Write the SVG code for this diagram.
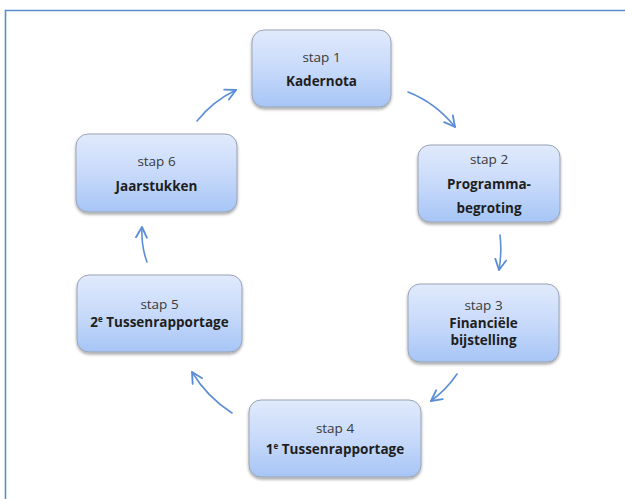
<svg xmlns="http://www.w3.org/2000/svg" width="625" height="499" viewBox="0 0 625 499">
  <defs>
    <linearGradient id="boxGrad" x1="0" y1="0" x2="0" y2="1">
      <stop offset="0" stop-color="#e0eafc"/>
      <stop offset="0.5" stop-color="#c8dafa"/>
      <stop offset="1" stop-color="#a6c5f6"/>
    </linearGradient>
    <filter id="shadow" x="-10%" y="-10%" width="120%" height="130%">
      <feDropShadow dx="0" dy="2" stdDeviation="1.6" flood-color="#000" flood-opacity="0.35"/>
    </filter>
    <marker id="arrow" markerUnits="userSpaceOnUse" markerWidth="14" markerHeight="14" viewBox="0 0 12 12" refX="10" refY="6" orient="auto">
      <path d="M1,1.3 L10,6 L1,10.7" fill="none" stroke="#5b8ed6" stroke-width="1.6" stroke-linecap="round" stroke-linejoin="round"/>
    </marker>
    <style>
      .box { fill: url(#boxGrad); stroke: #9aa3b3; stroke-width: 1; filter: url(#shadow); }
      .lbl { font-family: "Open Sans", "Liberation Sans", sans-serif; font-size: 13.5px; fill: #3a3a3a; text-anchor: middle; }
      .bold { font-family: "Open Sans", "Liberation Sans", sans-serif; font-size: 13.5px; font-weight: bold; fill: #1e1e1e; text-anchor: middle; }
      .conn { fill: none; stroke: #5b8ed6; stroke-width: 1.6; stroke-linecap: round; marker-end: url(#arrow); }
      .frame { fill: none; stroke: #5a8ad0; stroke-width: 1.6; }
    </style>
  </defs>

  <rect width="625" height="499" fill="#ffffff"/>
  <path class="frame" d="M5.5,499 V10.5 H625"/>

  <g id="connectors">
    <path class="conn" d="M197,121 Q213,101 236,90"/>
    <path class="conn" d="M408,92 Q436,103 455,127"/>
    <path class="conn" d="M500,235 Q502,252 499,270"/>
    <path class="conn" d="M457,374 Q447,389 431,401"/>
    <path class="conn" d="M232,413 Q207,397 192,372"/>
    <path class="conn" d="M147,262 Q141,246 142,227"/>
  </g>

  <g id="node1">
    <rect class="box" x="252" y="30" width="139" height="77" rx="12"/>
    <text class="lbl" x="321.5" y="62">stap 1</text>
    <text class="bold" x="321.5" y="86">Kadernota</text>
  </g>

  <g id="node2">
    <rect class="box" x="418" y="145" width="142" height="77" rx="12"/>
    <text class="lbl" x="489" y="164">stap 2</text>
    <text class="bold" x="489" y="189">Programma-</text>
    <text class="bold" x="489" y="213">begroting</text>
  </g>

  <g id="node3">
    <rect class="box" x="408" y="284" width="151" height="78" rx="12"/>
    <text class="lbl" x="483.5" y="310">stap 3</text>
    <text class="bold" x="483.5" y="328">Financiële</text>
    <text class="bold" x="483.5" y="345">bijstelling</text>
  </g>

  <g id="node4">
    <rect class="box" x="249" y="400" width="172" height="77" rx="12"/>
    <text class="lbl" x="335" y="433">stap 4</text>
    <text class="bold" x="335" y="454">1<tspan font-size="8" dy="-5">e</tspan><tspan dy="5"> Tussenrapportage</tspan></text>
  </g>

  <g id="node5">
    <rect class="box" x="77" y="275" width="165" height="77" rx="12"/>
    <text class="lbl" x="159.5" y="309">stap 5</text>
    <text class="bold" x="159.5" y="327">2<tspan font-size="8" dy="-5">e</tspan><tspan dy="5"> Tussenrapportage</tspan></text>
  </g>

  <g id="node6">
    <rect class="box" x="76" y="134" width="161" height="78" rx="12"/>
    <text class="lbl" x="156.5" y="166">stap 6</text>
    <text class="bold" x="156.5" y="191">Jaarstukken</text>
  </g>
</svg>
